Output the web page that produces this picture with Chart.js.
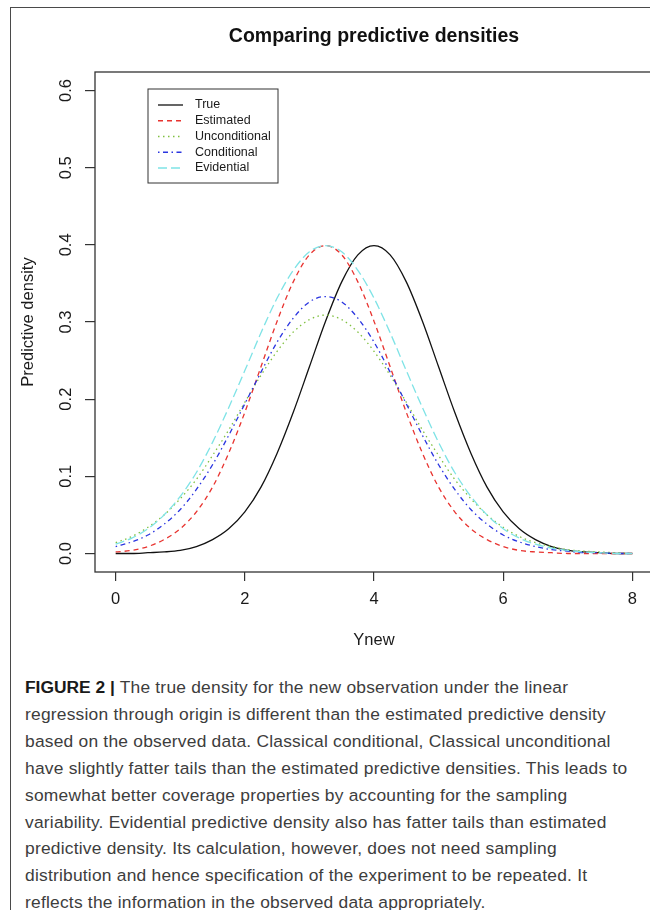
<!DOCTYPE html>
<html>
<head>
<meta charset="utf-8">
<script src="https://cdn.jsdelivr.net/npm/chart.js@4.4.0/dist/chart.umd.min.js"></script>
<style>
  html, body { margin: 0; padding: 0; background: #fff; }
  body { width: 650px; height: 910px; overflow: hidden; position: relative; font-family: "Liberation Sans", Arial, sans-serif; }
  #frame { position: absolute; left: 10px; top: 7px; width: 720px; height: 1000px; border: 1.5px solid #4a4a4a; }
  #plot { position: absolute; left: 0; top: 0; width: 670px; height: 660px; }
  #caption { position: absolute; left: 25px; top: 674px; font-size: 17.4px; letter-spacing: 0.22px; line-height: 26.9px; color: #3d3d3d; white-space: nowrap; }
  #caption b { color: #1a1a1a; letter-spacing: 0; }
</style>
</head>
<body>
<div id="frame"></div>
<canvas id="plot" width="670" height="660"></canvas>
<div id="caption">
<b>FIGURE 2 |</b> The true density for the new observation under the linear<br>
regression through origin is different than the estimated predictive density<br>
based on the observed data. Classical conditional, Classical unconditional<br>
have slightly fatter tails than the estimated predictive densities. This leads to<br>
somewhat better coverage properties by accounting for the sampling<br>
variability. Evidential predictive density also has fatter tails than estimated<br>
predictive density. Its calculation, however, does not need sampling<br>
distribution and hence specification of the experiment to be repeated. It<br>
reflects the information in the observed data appropriately.
</div>
<script>
const FONT = '"Liberation Sans", Arial, sans-serif';

const chartTitle = 'Comparing predictive densities';
const xTitle = 'Ynew';
const yTitle = 'Predictive density';

const xTicks = [0, 2, 4, 6, 8];
const yTicks = [0.0, 0.1, 0.2, 0.3, 0.4, 0.5, 0.6];

const seriesNames = ['True', 'Estimated', 'Unconditional', 'Conditional', 'Evidential'];

// Ynew grid the curves were read at
const xValues = [0, 0.25, 0.5, 0.75, 1, 1.25, 1.5, 1.75, 2, 2.25, 2.5, 2.75, 3, 3.25, 3.5, 3.75,
  4, 4.25, 4.5, 4.75, 5, 5.25, 5.5, 5.75, 6, 6.25, 6.5, 6.75, 7, 7.25, 7.5, 7.75, 8];

const trueDens = [0.000, 0.000, 0.001, 0.002, 0.004, 0.009, 0.018, 0.032, 0.054, 0.086, 0.130, 0.183, 0.242, 0.301, 0.352, 0.387,
  0.399, 0.387, 0.352, 0.301, 0.242, 0.183, 0.130, 0.086, 0.054, 0.032, 0.018, 0.009, 0.004, 0.002, 0.001, 0.000, 0.000];
const estimatedDens = [0.002, 0.004, 0.009, 0.018, 0.032, 0.054, 0.086, 0.130, 0.183, 0.242, 0.301, 0.352, 0.387, 0.399, 0.387, 0.352,
  0.301, 0.242, 0.183, 0.130, 0.086, 0.054, 0.032, 0.018, 0.009, 0.004, 0.002, 0.001, 0.000, 0.000, 0.000, 0.000, 0.000];
const uncondDens = [0.014, 0.022, 0.034, 0.050, 0.071, 0.096, 0.127, 0.160, 0.196, 0.231, 0.262, 0.287, 0.303, 0.309, 0.303, 0.287,
  0.262, 0.231, 0.196, 0.160, 0.127, 0.096, 0.071, 0.050, 0.034, 0.022, 0.014, 0.009, 0.005, 0.003, 0.002, 0.001, 0.000];
const condDens = [0.009, 0.015, 0.024, 0.038, 0.057, 0.083, 0.115, 0.153, 0.194, 0.235, 0.274, 0.305, 0.326, 0.333, 0.326, 0.305,
  0.274, 0.235, 0.194, 0.153, 0.115, 0.083, 0.057, 0.038, 0.024, 0.015, 0.009, 0.005, 0.003, 0.001, 0.001, 0.000, 0.000];
const evidDens = [0.012, 0.020, 0.032, 0.050, 0.074, 0.105, 0.144, 0.189, 0.237, 0.286, 0.331, 0.367, 0.391, 0.399, 0.391, 0.367,
  0.331, 0.286, 0.237, 0.189, 0.144, 0.105, 0.074, 0.050, 0.032, 0.020, 0.012, 0.007, 0.004, 0.002, 0.001, 0.000, 0.000];

const toPoints = (ys) => xValues.map((x, i) => ({ x: x, y: ys[i] }));

const styles = [
  { color: '#111111', dash: [] },
  { color: '#e8332f', dash: [5, 4] },
  { color: '#80c040', dash: [1.5, 3.5] },
  { color: '#2a35e0', dash: [1.5, 3.5, 5, 3.5] },
  { color: '#7fe3e6', dash: [9, 4] },
];
const seriesData = [trueDens, estimatedDens, uncondDens, condDens, evidDens];

const datasets = seriesNames.map((name, i) => ({
  label: name,
  data: toPoints(seriesData[i]),
  borderColor: styles[i].color,
  borderDash: styles[i].dash,
  borderWidth: 1.3,
  pointRadius: 0,
  fill: false,
  showLine: true,
  cubicInterpolationMode: 'monotone',
  order: seriesNames.length - i,
}));

// R style box, title, rotated y labels and legend
const rStyle = {
  id: 'rStyle',
  afterDraw(chart) {
    const { ctx, chartArea: ca, scales } = chart;
    ctx.save();
    ctx.strokeStyle = '#333';
    ctx.lineWidth = 1.3;
    ctx.strokeRect(ca.left, ca.top, ca.right - ca.left, ca.bottom - ca.top);

    ctx.fillStyle = '#111';
    ctx.font = 'bold 19.5px ' + FONT;
    ctx.textAlign = 'center';
    ctx.textBaseline = 'alphabetic';
    ctx.fillText(chartTitle, (ca.left + ca.right) / 2, 42);

    ctx.fillStyle = '#1a1a1a';
    ctx.font = '16.5px ' + FONT;
    yTicks.forEach(v => {
      const py = scales.y.getPixelForValue(v);
      ctx.save();
      ctx.translate(66, py);
      ctx.rotate(-Math.PI / 2);
      ctx.textAlign = 'center';
      ctx.textBaseline = 'middle';
      ctx.fillText(v.toFixed(1), 0, 0);
      ctx.restore();
    });

    const lx = ca.left + 53, ly = ca.top + 17;
    ctx.lineWidth = 1;
    ctx.strokeStyle = '#333';
    ctx.strokeRect(lx, ly, 130, 94);
    chart.data.datasets.forEach((ds, i) => {
      const y = ly + 16 + i * 15.75;
      ctx.setLineDash(ds.borderDash);
      ctx.strokeStyle = ds.borderColor;
      ctx.lineWidth = ds.borderWidth;
      ctx.beginPath();
      ctx.moveTo(lx + 10, y);
      ctx.lineTo(lx + 35, y);
      ctx.stroke();
      ctx.setLineDash([]);
      ctx.fillStyle = '#1a1a1a';
      ctx.font = '12.5px ' + FONT;
      ctx.textAlign = 'left';
      ctx.textBaseline = 'middle';
      ctx.fillText(ds.label, lx + 47, y);
    });
    ctx.restore();
  }
};

new Chart(document.getElementById('plot'), {
  type: 'scatter',
  data: { datasets: datasets },
  options: {
    responsive: false,
    animation: false,
    devicePixelRatio: 1,
    layout: { padding: { top: 72, right: 17, left: 0, bottom: 0 } },
    plugins: { legend: { display: false }, tooltip: { enabled: false } },
    scales: {
      x: {
        type: 'linear',
        min: -0.32,
        max: 8.32,
        afterBuildTicks: (s) => { s.ticks = xTicks.map(v => ({ value: v })); },
        afterFit: (s) => { s.height = 88; },
        grid: { drawOnChartArea: false, drawTicks: true, tickLength: 9, color: '#333', lineWidth: 1.2 },
        border: { display: false },
        ticks: { color: '#1a1a1a', font: { size: 16.5, family: FONT }, padding: 9, maxRotation: 0, autoSkip: false },
        title: { display: true, text: xTitle, color: '#1a1a1a', font: { size: 16.5, family: FONT }, padding: { top: 0, bottom: 10 } }
      },
      y: {
        type: 'linear',
        min: -0.024,
        max: 0.624,
        afterBuildTicks: (s) => { s.ticks = yTicks.map(v => ({ value: v })); },
        afterFit: (s) => { s.width = 95; },
        grid: { drawOnChartArea: false, drawTicks: true, tickLength: 10, color: '#333', lineWidth: 1.2 },
        border: { display: false },
        ticks: { display: false },
        title: { display: true, text: yTitle, color: '#1a1a1a', font: { size: 16.5, family: FONT }, padding: { top: 19, bottom: 0 } }
      }
    }
  },
  plugins: [rStyle]
});
</script>
</body>
</html>
